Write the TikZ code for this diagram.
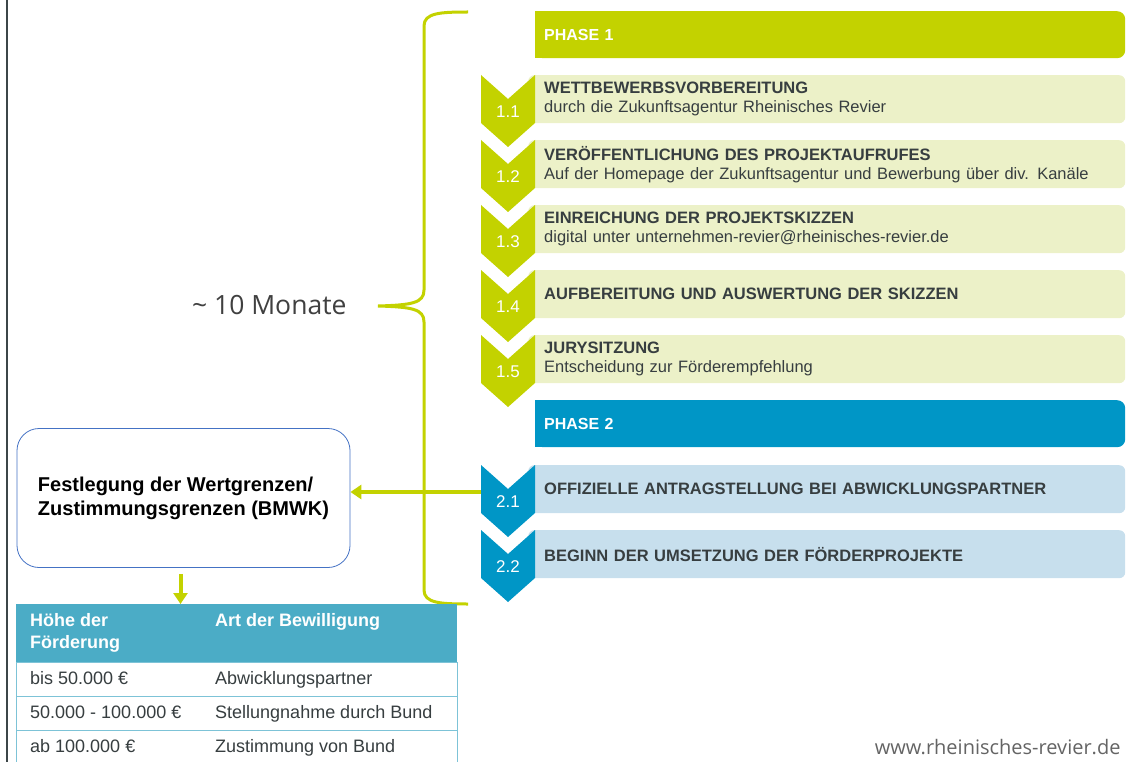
\documentclass[tikz,border=0pt]{standalone}
\usepackage{fontspec}
\setmainfont{Liberation Sans}
\newfontfamily\opensans{Open Sans}
\usepackage{xcolor}
\usepackage{tikz}
\usetikzlibrary{arrows.meta,positioning,backgrounds}

\definecolor{rrgreen}{RGB}{195,210,0}
\definecolor{rrlight}{RGB}{236,241,200}
\definecolor{rrblue}{RGB}{0,150,198}
\definecolor{rrlightblue}{RGB}{199,223,237}
\definecolor{rrteal}{RGB}{75,172,198}
\definecolor{rrrow}{RGB}{125,195,215}
\definecolor{rrtext}{RGB}{55,62,64}
\definecolor{rrframe}{RGB}{68,114,196}
\definecolor{rrgray}{RGB}{64,64,64}
\definecolor{rrweb}{RGB}{100,100,100}
\definecolor{rrline}{RGB}{60,70,72}

\begin{document}
\begin{tikzpicture}[x=1pt, y=-1pt,
    phase/.style={rectangle, rounded corners=8pt, anchor=north west, minimum height=47pt, text width=572pt, inner xsep=9pt, align=left, text=white, font=\bfseries\fontsize{16}{19}\selectfont},
    stepbox/.style={rectangle, rounded corners=6pt, anchor=north west, minimum height=48pt, text width=565pt, inner xsep=16pt, align=left, text=rrtext, font=\fontsize{16.5}{19}\selectfont},
    num/.style={text=white, font=\fontsize{17}{20}\selectfont},
    chev/.pic={\fill[pic actions] (-27,0) -- (0,24) -- (27,0) -- (27,48) -- (0,72) -- (-27,48) -- cycle;},
    link/.style={-{Triangle[width=14pt,length=11pt]}, line width=4pt, rrgreen},
    trow/.style={rectangle, draw=rrrow, line width=1.2pt, fill=white, anchor=north west, minimum width=441pt, minimum height=34pt},
    tcell/.style={anchor=west, inner xsep=0pt, text height=13pt, text depth=4pt, text=rrtext, font=\fontsize{18}{22}\selectfont},
    thead/.style={anchor=west, inner xsep=0pt, align=left, text=white, font=\bfseries\fontsize{18}{22}\selectfont}
]
    \useasboundingbox (0,0) rectangle (1132,762);
    \draw[rrline, line width=2pt] (7,0) -- (7,762);

    % Brace
    \draw[rrgreen, line width=3pt] (468,12) .. controls (440,12) and (424,13) .. (424,26) -- (424,290)
        .. controls (424,303) and (412,305) .. (378,306) .. controls (412,307) and (424,309) .. (424,322)
        -- (424,590) .. controls (424,603) and (440,604) .. (468,604);
    \node[font=\opensans\fontsize{26.5}{30}\selectfont, text=rrgray, anchor=east] (dauer) at (350,305) {\textasciitilde\ 10 Monate};

    % Phase 1
    \node[phase, fill=rrgreen] (ph1) at (535,11) {PHASE 1};
    \node[stepbox, fill=rrlight] (s11) at (528,75) {\textbf{WETTBEWERBSVORBEREITUNG}\\durch die Zukunftsagentur Rheinisches Revier};
    \node[stepbox, fill=rrlight] (s12) at (528,140) {\textbf{VERÖFFENTLICHUNG DES PROJEKTAUFRUFES}\\Auf der Homepage der Zukunftsagentur und Bewerbung über div. Kanäle};
    \node[stepbox, fill=rrlight] (s13) at (528,205) {\textbf{EINREICHUNG DER PROJEKTSKIZZEN}\\digital unter unternehmen-revier@rheinisches-revier.de};
    \node[stepbox, fill=rrlight] (s14) at (528,270) {\textbf{AUFBEREITUNG UND AUSWERTUNG DER SKIZZEN}};
    \node[stepbox, fill=rrlight] (s15) at (528,335) {\textbf{JURYSITZUNG}\\Entscheidung zur Förderempfehlung};

    % Phase 2
    \node[phase, fill=rrblue] (ph2) at (535,400) {PHASE 2};
    \node[stepbox, fill=rrlightblue] (s21) at (528,465) {\textbf{OFFIZIELLE ANTRAGSTELLUNG BEI ABWICKLUNGSPARTNER}};
    \node[stepbox, fill=rrlightblue] (s22) at (528,530) {\textbf{BEGINN DER UMSETZUNG DER FÖRDERPROJEKTE}};

    \begin{scope}[on background layer]
        \fill[rrgreen] (ph1.north west) rectangle ([xshift=12pt]ph1.south west);
        \fill[rrblue] (ph2.north west) rectangle ([xshift=12pt]ph2.south west);
    \end{scope}

    % Chevrons
    \pic[fill=rrgreen] at (508,75) {chev};
    \pic[fill=rrgreen] at (508,140) {chev};
    \pic[fill=rrgreen] at (508,205) {chev};
    \pic[fill=rrgreen] at (508,270) {chev};
    \pic[fill=rrgreen] at (508,335) {chev};
    \pic[fill=rrblue] at (508,465) {chev};
    \pic[fill=rrblue] at (508,530) {chev};
    \node[num] (n11) at (508,112) {1.1};
    \node[num] (n12) at (508,177) {1.2};
    \node[num] (n13) at (508,242) {1.3};
    \node[num] (n14) at (508,307) {1.4};
    \node[num] (n15) at (508,372) {1.5};
    \node[num] (n21) at (508,502) {2.1};
    \node[num] (n22) at (508,567) {2.2};
    \coordinate (c21) at (481,492);

    % Wertgrenzen
    \node[rectangle, draw=rrframe, line width=0.8pt, rounded corners=22pt, minimum width=333pt, minimum height=139pt,
        align=left, font=\bfseries\fontsize{20}{24}\selectfont] (fest) at (183.5,498) {Festlegung der Wertgrenzen/\\Zustimmungsgrenzen (BMWK)};
    \draw[link] (c21) -- (c21 -| fest.east);

    % Table
    \node[rectangle, fill=rrteal, anchor=north west, minimum width=441pt, minimum height=58pt] (tab) at (16,604) {};
    \node[thead] (h1) at (30,633) {Höhe der\\Förderung};
    \node[thead] (h2) at (215,622) {Art der Bewilligung};
    \node[trow] (r1) at (16,662) {};
    \node[trow] (r2) at (16,696) {};
    \node[trow] (r3) at (16,730) {};
    \node[tcell] (r1a) at (30,680) {bis 50.000 €};
    \node[tcell] (r1b) at (215,680) {Abwicklungspartner};
    \node[tcell] (r2a) at (30,714) {50.000 - 100.000 €};
    \node[tcell] (r2b) at (215,714) {Stellungnahme durch Bund};
    \node[tcell] (r3a) at (30,748) {ab 100.000 €};
    \node[tcell] (r3b) at (215,748) {Zustimmung von Bund};
    \draw[link] ([xshift=-3pt,yshift=-6pt]fest.south) -- ([xshift=-3pt]fest.south |- tab.north);

    \node[font=\opensans\fontsize{20}{24}\selectfont, text=rrweb, anchor=east] (web) at (1124,747) {www.rheinisches-revier.de};
\end{tikzpicture}
\end{document}
